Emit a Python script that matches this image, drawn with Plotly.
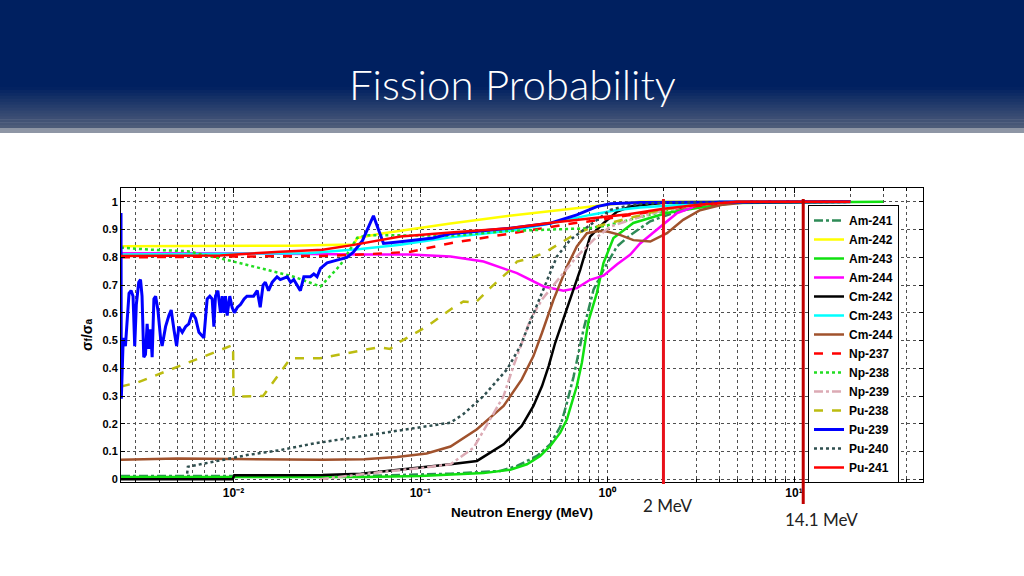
import math
import plotly.graph_objects as go

# ---------------- data ----------------
# energies in MeV, values are sigma_f / sigma_a
AM241_E = [0.0025, 0.05, 0.145, 0.268, 0.329, 0.421, 0.496, 0.561, 0.609, 0.661, 0.703, 0.747, 0.845, 0.955, 1.13, 1.33, 1.7, 2.37, 3.14, 5.0, 20.0]
AM241_P = [0.012, 0.012, 0.02, 0.03, 0.048, 0.084, 0.126, 0.19, 0.276, 0.37, 0.456, 0.54, 0.683, 0.755, 0.84, 0.88, 0.93, 0.965, 0.985, 1.0, 1.0]

AM242_E = [0.0025, 0.02, 0.044, 0.046, 0.061, 0.145, 0.3, 0.688, 1.0, 1.5, 20.0]
AM242_P = [0.84, 0.842, 0.846, 0.87, 0.885, 0.922, 0.95, 0.977, 0.99, 1.0, 1.0]

AM243_E = [0.0025, 0.05, 0.1, 0.145, 0.218, 0.303, 0.372, 0.438, 0.496, 0.561, 0.609, 0.647, 0.688, 0.732, 0.763, 0.794, 0.88, 0.955, 1.08, 1.38, 2.08, 3.14, 4.7, 30.0]
AM243_P = [0.008, 0.008, 0.012, 0.018, 0.022, 0.034, 0.054, 0.084, 0.12, 0.168, 0.216, 0.276, 0.336, 0.42, 0.504, 0.57, 0.671, 0.779, 0.87, 0.924, 0.96, 0.98, 0.996, 1.0]

AM244_E = [0.0025, 0.01, 0.0478, 0.0885, 0.145, 0.218, 0.329, 0.457, 0.583, 0.688, 0.81, 0.955, 1.13, 1.33, 1.5, 2.0, 2.37, 3.14, 4.0, 20.0]
AM244_P = [0.815, 0.815, 0.81, 0.81, 0.803, 0.785, 0.743, 0.695, 0.68, 0.689, 0.719, 0.734, 0.775, 0.81, 0.85, 0.92, 0.96, 0.99, 1.0, 1.0]

CM242_E = [0.0025, 0.0099, 0.0101, 0.03, 0.048, 0.075, 0.108, 0.145, 0.201, 0.279, 0.349, 0.403, 0.448, 0.486, 0.527, 0.583, 0.634, 0.717, 0.81, 0.955, 1.13, 1.33, 2.0, 20.0]
CM242_P = [0.0, 0.0, 0.014, 0.015, 0.02, 0.033, 0.045, 0.054, 0.066, 0.126, 0.192, 0.264, 0.336, 0.408, 0.492, 0.576, 0.647, 0.755, 0.875, 0.923, 0.965, 0.983, 0.997, 1.0]

CM243_E = [0.0025, 0.025, 0.0478, 0.078, 0.145, 0.329, 0.561, 0.81, 1.13, 1.5, 2.5, 4.0, 20.0]
CM243_P = [0.81, 0.815, 0.83, 0.845, 0.872, 0.899, 0.929, 0.953, 0.971, 0.98, 0.99, 1.0, 1.0]

CM244_E = [0.0025, 0.005, 0.01, 0.03, 0.05, 0.075, 0.108, 0.145, 0.201, 0.279, 0.349, 0.403, 0.448, 0.476, 0.516, 0.609, 0.688, 0.779, 0.9, 1.0, 1.17, 1.38, 1.7, 2.09, 2.55, 3.14, 4.17, 6.0, 20.0]
CM244_P = [0.07, 0.075, 0.073, 0.07, 0.072, 0.08, 0.093, 0.118, 0.18, 0.264, 0.36, 0.444, 0.528, 0.576, 0.647, 0.767, 0.839, 0.887, 0.895, 0.893, 0.881, 0.862, 0.857, 0.887, 0.935, 0.97, 0.99, 1.0, 1.0]

NP237_E = [0.0025, 0.03, 0.0478, 0.0885, 0.145, 0.237, 0.403, 0.661, 0.92, 1.33, 2.0, 3.0, 5.0, 20.0]
NP237_P = [0.80, 0.805, 0.81, 0.82, 0.851, 0.875, 0.899, 0.923, 0.935, 0.953, 0.97, 0.985, 1.0, 1.0]

NP238_E = [0.0025, 0.0035, 0.0057, 0.0093, 0.0151, 0.021, 0.0292, 0.034, 0.0373, 0.0459, 0.052, 0.145, 0.3, 0.8, 1.0, 1.56, 2.17, 3.0, 5.0, 20.0]
NP238_P = [0.835, 0.828, 0.822, 0.79, 0.755, 0.73, 0.695, 0.745, 0.772, 0.87, 0.88, 0.878, 0.895, 0.905, 0.915, 0.948, 0.972, 0.99, 1.0, 1.0]

NP239_E = [0.029, 0.04, 0.06, 0.1, 0.145, 0.193, 0.237, 0.279, 0.315, 0.349, 0.388, 0.45, 0.561, 0.688, 0.845, 1.04, 1.33, 2.0, 3.0, 5.0, 20.0]
NP239_P = [0.0, 0.012, 0.025, 0.04, 0.054, 0.114, 0.216, 0.30, 0.408, 0.492, 0.576, 0.65, 0.73, 0.803, 0.863, 0.911, 0.935, 0.97, 0.99, 1.0, 1.0]

PU238_E = [0.0025, 0.0031, 0.00995, 0.0100, 0.0144, 0.0202, 0.029, 0.0405, 0.06, 0.069, 0.078, 0.108, 0.145, 0.170, 0.197, 0.237, 0.303, 0.329, 0.388, 0.457, 0.561, 0.688, 0.81, 1.04, 1.33, 1.92, 3.0, 5.0, 20.0]
PU238_P = [0.334, 0.35, 0.484, 0.298, 0.30, 0.436, 0.436, 0.454, 0.476, 0.47, 0.496, 0.55, 0.612, 0.641, 0.636, 0.69, 0.755, 0.785, 0.797, 0.815, 0.851, 0.887, 0.905, 0.923, 0.941, 0.97, 0.99, 1.0, 1.0]

PU239_E = [0.00250, 0.00251, 0.00257, 0.00264, 0.00276, 0.00283, 0.00290, 0.00296, 0.00302, 0.00311,
           0.00318, 0.00324, 0.00331, 0.00338, 0.00345, 0.00352, 0.00360, 0.00367, 0.00375, 0.00383,
           0.00394, 0.00407, 0.00415, 0.00433, 0.00451, 0.00464, 0.00480, 0.00496, 0.00510, 0.00532,
           0.00554, 0.00576, 0.00601, 0.00627, 0.00653, 0.00694, 0.00723, 0.00747, 0.00769, 0.00785,
           0.00801, 0.00825, 0.00852, 0.00870, 0.00888, 0.00906, 0.00925, 0.00955, 0.00983, 0.0101,
           0.0105, 0.0109, 0.0114, 0.0118, 0.0123, 0.0128, 0.0134, 0.0139, 0.0144, 0.0148,
           0.0154, 0.0161, 0.0171, 0.0178, 0.0194, 0.0202, 0.0210, 0.0219, 0.0228, 0.0238,
           0.0258, 0.0269, 0.0280, 0.0292, 0.0317, 0.0358, 0.0405, 0.0440, 0.0490, 0.0561,
           0.0635, 0.0782, 0.117, 0.145, 0.303, 0.496, 0.688, 0.88, 1.04, 1.5, 20.0]
PU239_P = [0.96, 0.29, 0.51, 0.48, 0.67, 0.68, 0.66, 0.48, 0.63, 0.71,
           0.72, 0.66, 0.44, 0.45, 0.56, 0.47, 0.54, 0.44, 0.65, 0.66,
           0.61, 0.51, 0.48, 0.55, 0.59, 0.61, 0.54, 0.48, 0.55, 0.53,
           0.55, 0.56, 0.60, 0.58, 0.53, 0.51, 0.65, 0.66, 0.65, 0.55,
           0.66, 0.68, 0.60, 0.66, 0.60, 0.66, 0.59, 0.66, 0.62, 0.60,
           0.62, 0.63, 0.65, 0.66, 0.66, 0.66, 0.68, 0.62, 0.70, 0.71,
           0.68, 0.71, 0.73, 0.72, 0.73, 0.71, 0.72, 0.70, 0.68, 0.73,
           0.73, 0.74, 0.73, 0.76, 0.78, 0.79, 0.80, 0.82, 0.86, 0.95,
           0.85, 0.856, 0.87, 0.885, 0.905, 0.923, 0.953, 0.983, 0.993, 0.998, 1.0]

PU240_E = [0.00565, 0.0057, 0.0078, 0.0118, 0.0178, 0.0269, 0.0405, 0.0611, 0.108, 0.145, 0.17, 0.218, 0.291, 0.343, 0.372, 0.457, 0.538, 0.634, 0.747, 0.88, 1.04, 1.33, 2.0, 20.0]
PU240_P = [0.02, 0.045, 0.063, 0.087, 0.105, 0.129, 0.147, 0.165, 0.189, 0.204, 0.235, 0.30, 0.396, 0.48, 0.54, 0.683, 0.803, 0.863, 0.899, 0.935, 0.971, 0.989, 0.997, 1.0]

PU241_E = [0.0025, 0.0085, 0.0178, 0.03, 0.044, 0.0782, 0.145, 0.3, 0.5, 0.8, 1.3, 2.0, 3.1, 5.0, 20.0]
PU241_P = [0.805, 0.807, 0.82, 0.827, 0.845, 0.875, 0.89, 0.905, 0.925, 0.94, 0.955, 0.975, 0.99, 1.0, 1.0]

ISOTOPES = ["Am-241", "Am-242", "Am-243", "Am-244", "Cm-242", "Cm-243", "Cm-244",
            "Np-237", "Np-238", "Np-239", "Pu-238", "Pu-239", "Pu-240", "Pu-241"]
SERIES = {
    "Am-241": (AM241_E, AM241_P), "Am-242": (AM242_E, AM242_P),
    "Am-243": (AM243_E, AM243_P), "Am-244": (AM244_E, AM244_P),
    "Cm-242": (CM242_E, CM242_P), "Cm-243": (CM243_E, CM243_P),
    "Cm-244": (CM244_E, CM244_P), "Np-237": (NP237_E, NP237_P),
    "Np-238": (NP238_E, NP238_P), "Np-239": (NP239_E, NP239_P),
    "Pu-238": (PU238_E, PU238_P), "Pu-239": (PU239_E, PU239_P),
    "Pu-240": (PU240_E, PU240_P), "Pu-241": (PU241_E, PU241_P),
}

# marker lines (MeV) and their labels
LINE_2MEV = 2.0
LINE_14MEV_DRAWN = 11.2     # where the hand-drawn "14.1 MeV" line sits on the axis
LABEL_2MEV_AT = 2.0
LABEL_14MEV_AT = 14.1

X_MIN, X_MAX = 0.0025, 49.0
Y_MIN, Y_MAX = -0.01, 1.05
X_DECADES = [0.01, 0.1, 1, 10]
X_DECADE_TEXT = ["10⁻²", "10⁻¹", "10⁰", "10¹"]
Y_TICKS = [0, 0.1, 0.2, 0.3, 0.4, 0.5, 0.6, 0.7, 0.8, 0.9, 1]
Y_TICK_TEXT = ["0", "0.1", "0.2", "0.3", "0.4", "0.5", "0.6", "0.7", "0.8", "0.9", "1"]

# ---------------- styles ----------------
STYLE = {
    "Am-241": dict(color="#2e8b57", dash="dashdot", width=2.5),
    "Am-242": dict(color="#ffff00", dash="solid", width=2.5),
    "Am-243": dict(color="#10e010", dash="solid", width=2.5),
    "Am-244": dict(color="#ff00ff", dash="solid", width=2.5),
    "Cm-242": dict(color="#000000", dash="solid", width=2.5),
    "Cm-243": dict(color="#00ffff", dash="solid", width=2.5),
    "Cm-244": dict(color="#a0522d", dash="solid", width=2.5),
    "Np-237": dict(color="#ff0000", dash="dash", width=2.5),
    "Np-238": dict(color="#22dd22", dash="dot", width=2.5),
    "Np-239": dict(color="#dcaab4", dash="dashdot", width=2.5),
    "Pu-238": dict(color="#bcbc10", dash="dash", width=2.5),
    "Pu-239": dict(color="#0000ff", dash="solid", width=3),
    "Pu-240": dict(color="#2f4f4f", dash="dot", width=2.5),
    "Pu-241": dict(color="#ff0000", dash="solid", width=2.5),
}

fig = go.Figure()
for name in ISOTOPES:
    e, p = SERIES[name]
    fig.add_trace(go.Scatter(x=e, y=p, mode="lines", name=name, line=STYLE[name]))

# ---------------- layout geometry ----------------
L, R, T, B = 121, 101, 188, 94
W, H = 1024 - L - R, 576 - T - B


def px_x(px):
    return (px - L) / W


def px_y(py):
    return (576 - B - py) / H


shapes = []
# slide title band
shapes.append(dict(type="rect", xref="paper", yref="paper", x0=px_x(0), x1=px_x(1024),
                   y0=px_y(88), y1=px_y(0), fillcolor="rgb(0,32,96)", line_width=0, layer="below"))
n = 14
top, bot = 87.0, 128.0
c0, c1 = (0, 32, 96), (80, 94, 122)
for i in range(n):
    t = (i + 0.5) / n
    col = tuple(int(round(a + (b - a) * t)) for a, b in zip(c0, c1))
    ya = top + (bot - top) * i / n
    yb = top + (bot - top) * (i + 1) / n + 0.6
    shapes.append(dict(type="rect", xref="paper", yref="paper", x0=px_x(0), x1=px_x(1024),
                       y0=px_y(yb), y1=px_y(ya), fillcolor="rgb(%d,%d,%d)" % col,
                       line_width=0, layer="below"))
shapes.append(dict(type="rect", xref="paper", yref="paper", x0=px_x(0), x1=px_x(1024),
                   y0=px_y(133), y1=px_y(128), fillcolor="rgb(142,150,165)", line_width=0, layer="below"))

# red marker lines
shapes.append(dict(type="line", xref="x", yref="paper", x0=LINE_2MEV, x1=LINE_2MEV,
                   y0=px_y(484), y1=px_y(199), line=dict(color="#e8101a", width=3)))
shapes.append(dict(type="line", xref="x", yref="paper", x0=LINE_14MEV_DRAWN, x1=LINE_14MEV_DRAWN,
                   y0=px_y(504), y1=px_y(199), line=dict(color="#c00000", width=3)))

annotations = [
    dict(text="Fission Probability", xref="paper", yref="paper", x=px_x(512), y=px_y(84),
         xanchor="center", yanchor="middle", showarrow=False,
         font=dict(family="Lato", size=42, color="white", weight=300)),
    dict(text="2 MeV", xref="x", yref="paper", x=math.log10(LABEL_2MEV_AT), y=px_y(505),
         xanchor="center", yanchor="middle", showarrow=False, xshift=4,
         font=dict(family="Lato", size=17, color="#222222")),
    dict(text="14.1 MeV", xref="x", yref="paper", x=math.log10(LABEL_14MEV_AT), y=px_y(519),
         xanchor="center", yanchor="middle", showarrow=False,
         font=dict(family="Lato", size=17, color="#222222")),
]

# minor log grid: 2..9 x each decade
minor_vals = [k * 10.0 ** d for d in range(-3, 2) for k in range(2, 10)
              if X_MIN <= k * 10.0 ** d <= X_MAX]

tickfont = dict(family="Arial, Liberation Sans", size=11, color="black", weight="bold")
grid_style = dict(gridcolor="#505050", griddash="dot", gridwidth=1)

y_title = ("<b>σ<span style='font-size:10px'>f</span>/σ"
           "<span style='font-size:10px'>a</span></b>")

fig.update_layout(
    width=1024, height=576,
    margin=dict(l=L, r=R, t=T, b=B),
    paper_bgcolor="white", plot_bgcolor="white",
    shapes=shapes, annotations=annotations,
    showlegend=True,
    legend=dict(x=px_x(808), y=px_y(205), xanchor="left", yanchor="top",
                bgcolor="white", bordercolor="black", borderwidth=1,
                font=dict(family="Arial, Liberation Sans", size=12, color="black", weight="bold"),
                tracegroupgap=0),
    xaxis=dict(type="log", range=[math.log10(X_MIN), math.log10(X_MAX)],
               tickmode="array", tickvals=X_DECADES, ticktext=X_DECADE_TEXT,
               ticks="inside", ticklen=5, tickcolor="black",
               minor=dict(tickvals=minor_vals, showgrid=True, ticks="inside", ticklen=3,
                          tickcolor="black", **grid_style),
               showline=True, linecolor="black", linewidth=1, mirror="ticks",
               showgrid=True, zeroline=False,
               tickfont=dict(family="Arial, Liberation Sans", size=12, color="black", weight="bold"),
               title=dict(text="<b>Neutron Energy (MeV)</b>", standoff=8,
                          font=dict(family="Arial, Liberation Sans", size=13.5, color="black")),
               **grid_style),
    yaxis=dict(range=[Y_MIN, Y_MAX], tickmode="array", tickvals=Y_TICKS, ticktext=Y_TICK_TEXT,
               ticks="inside", ticklen=4, tickcolor="black",
               showline=True, linecolor="black", linewidth=1, mirror="ticks",
               showgrid=True, zeroline=False, tickfont=tickfont,
               title=dict(text=y_title, standoff=6,
                          font=dict(family="Arial, Liberation Sans", size=14, color="black")),
               **grid_style),
)

fig.write_html("out.html", include_plotlyjs=True, config={"displayModeBar": False},
               post_script="document.body.style.margin='0px';document.body.style.overflow='hidden';")
